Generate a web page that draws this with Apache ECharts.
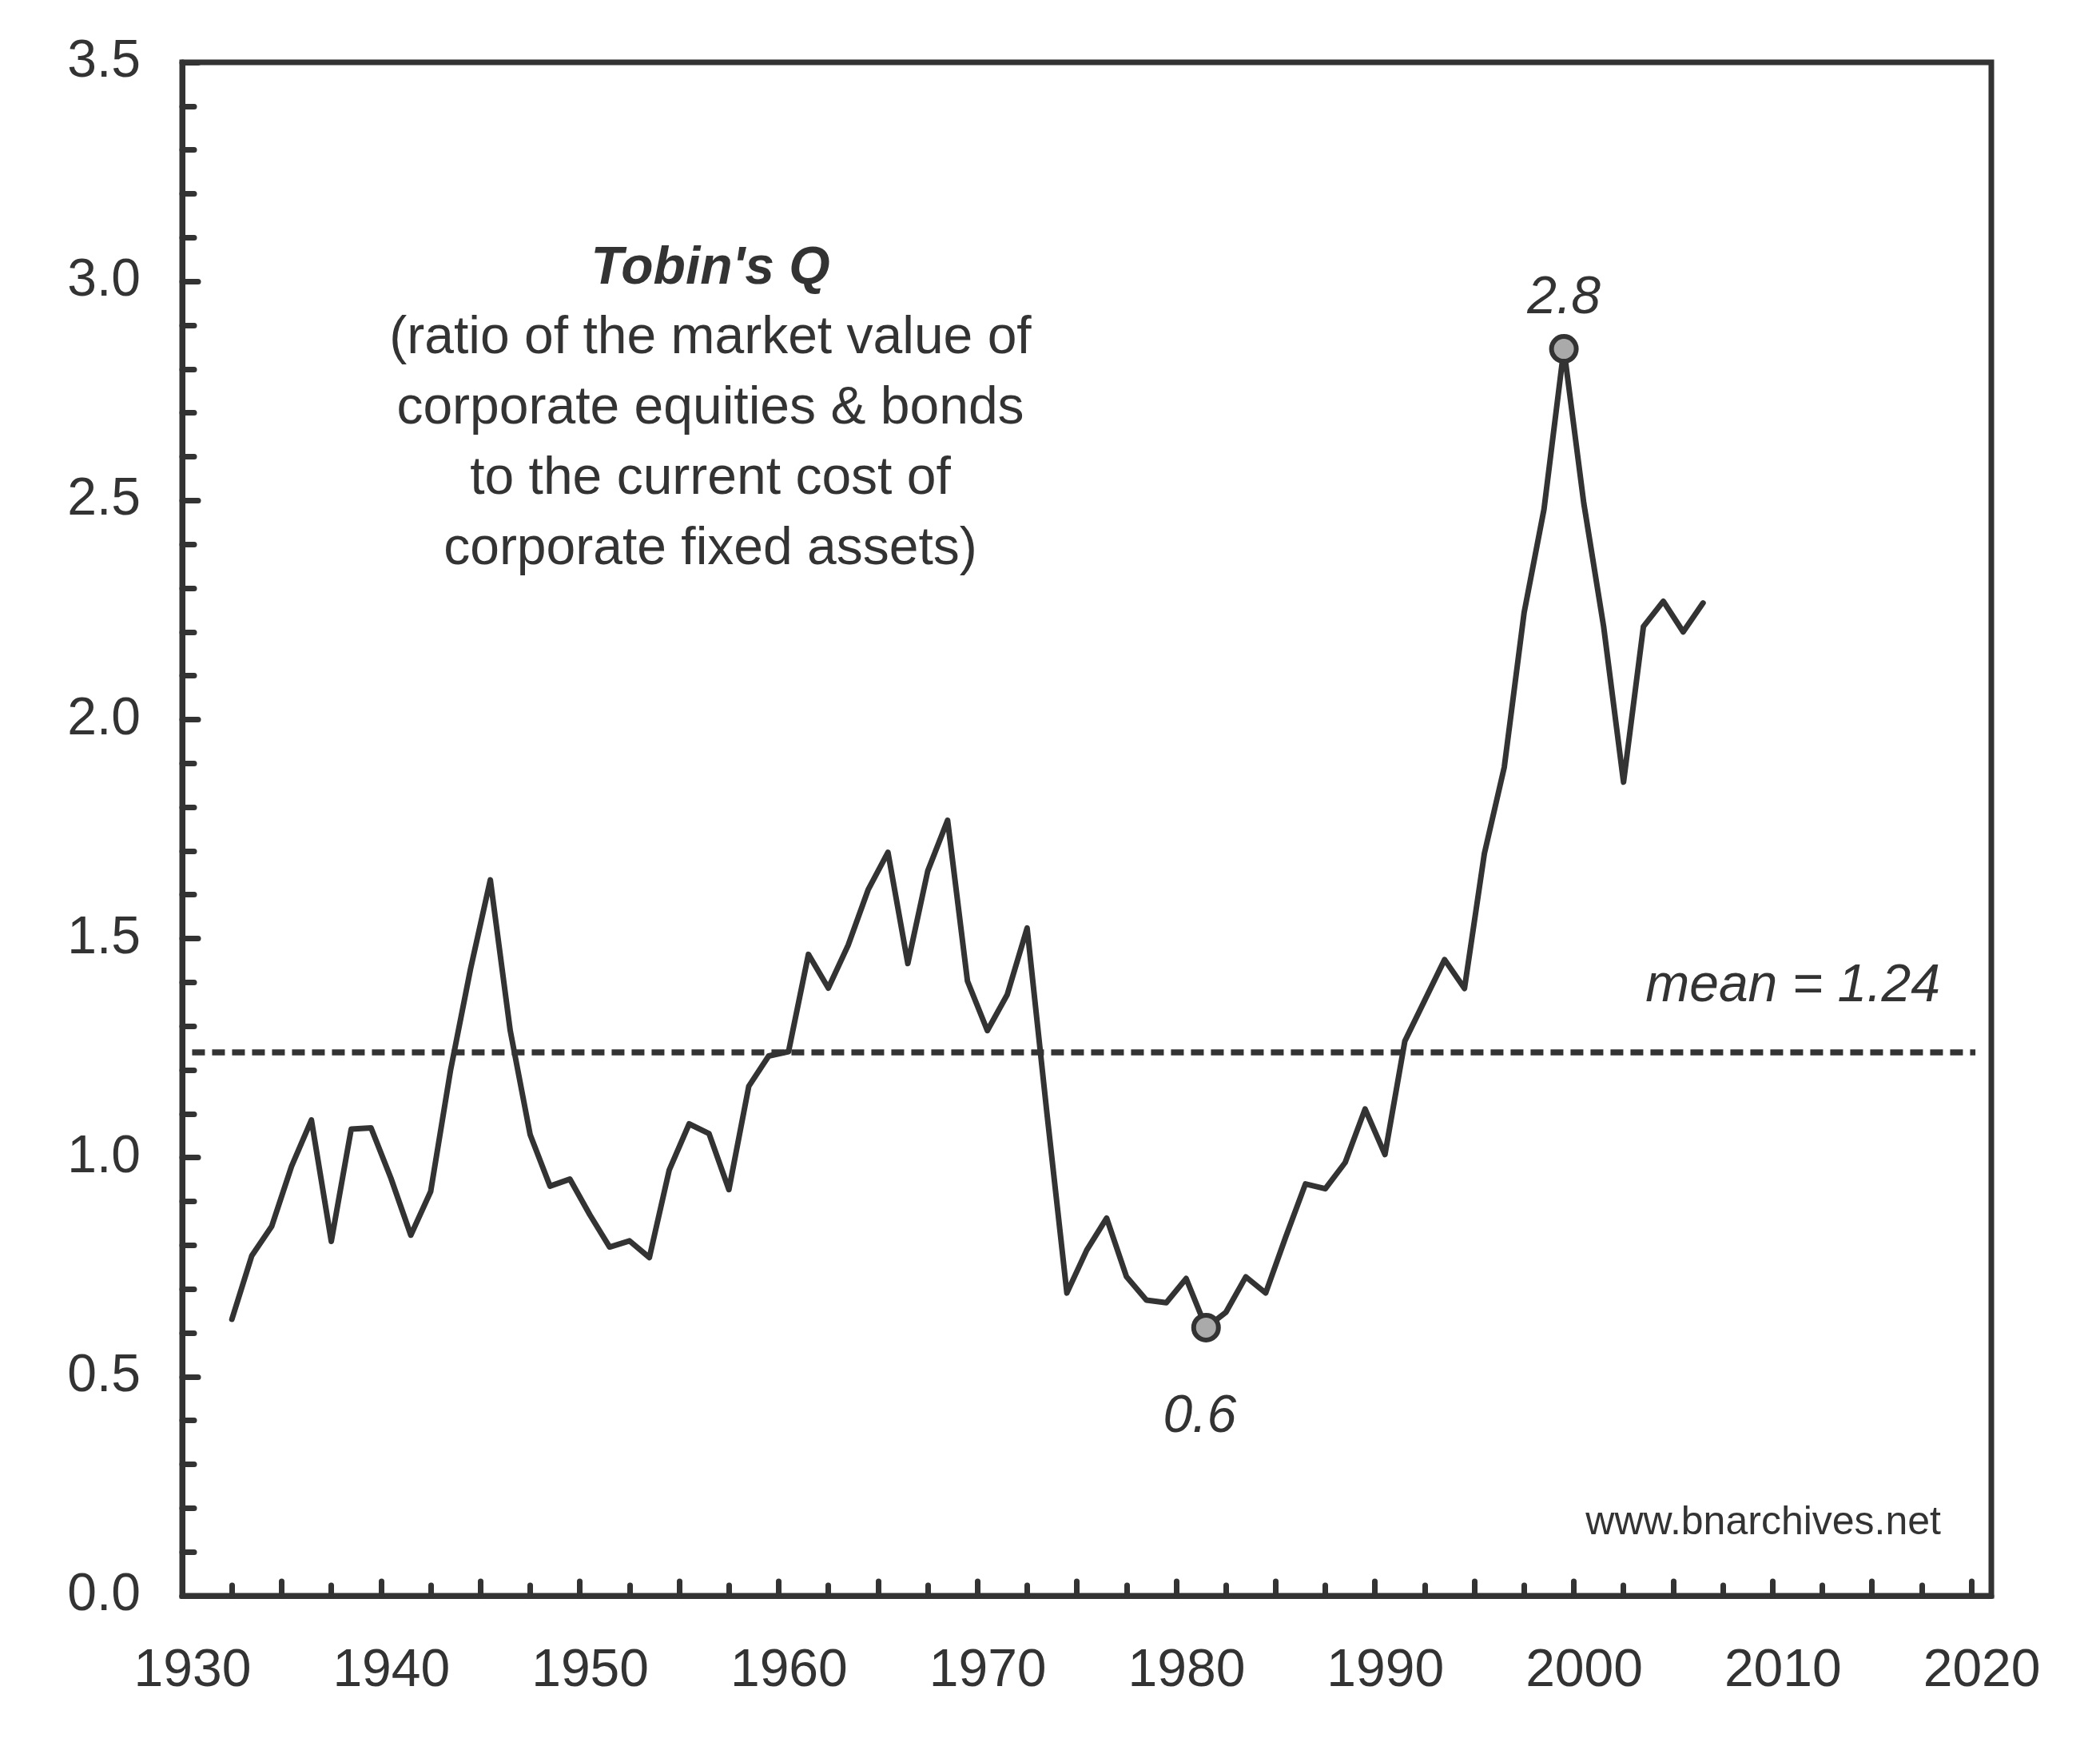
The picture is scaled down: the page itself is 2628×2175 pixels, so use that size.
<!DOCTYPE html>
<html>
<head>
<meta charset="utf-8">
<title>Tobin's Q</title>
<script src="https://cdn.jsdelivr.net/npm/echarts@6/dist/echarts.min.js"></script>
<style>
    html, body { margin: 0; padding: 0; background: #fff; }
    #chart { width: 2628px; height: 2175px; }
</style>
</head>
<body>
<div id="chart"></div>
<script>
    // annual values, drawn at mid-year
    const years = [
        1932, 1933, 1934, 1935, 1936, 1937, 1938, 1939, 1940, 1941,
        1942, 1943, 1944, 1945, 1946, 1947, 1948, 1949, 1950, 1951,
        1952, 1953, 1954, 1955, 1956, 1957, 1958, 1959, 1960, 1961,
        1962, 1963, 1964, 1965, 1966, 1967, 1968, 1969, 1970, 1971,
        1972, 1973, 1974, 1975, 1976, 1977, 1978, 1979, 1980, 1981,
        1982, 1983, 1984, 1985, 1986, 1987, 1988, 1989, 1990, 1991,
        1992, 1993, 1994, 1995, 1996, 1997, 1998, 1999, 2000, 2001,
        2002, 2003, 2004, 2005, 2006
    ];
    const tobinQ = [
        0.631, 0.776, 0.843, 0.980, 1.086, 0.809, 1.065, 1.068, 0.953, 0.823,
        0.923, 1.200, 1.430, 1.634, 1.290, 1.053, 0.935, 0.951, 0.870, 0.796,
        0.810, 0.772, 0.972, 1.077, 1.055, 0.927, 1.163, 1.232, 1.242, 1.464,
        1.387, 1.485, 1.611, 1.697, 1.443, 1.654, 1.770, 1.403, 1.290, 1.372,
        1.524, 1.100, 0.691, 0.789, 0.862, 0.728, 0.675, 0.669, 0.724, 0.612,
        0.647, 0.728, 0.691, 0.818, 0.940, 0.929, 0.989, 1.111, 1.007, 1.266,
        1.359, 1.452, 1.386, 1.694, 1.891, 2.244, 2.480, 2.846, 2.494, 2.212,
        1.857, 2.212, 2.270, 2.200, 2.266
    ];
    const meanQ = 1.24;
    const meanSpan = [1930.5, 2020.2];

    const yearLabels = [1930, 1940, 1950, 1960, 1970, 1980, 1990, 2000, 2010, 2020];
    const yearTicksMajor = [1935, 1940, 1945, 1950, 1955, 1960, 1965, 1970, 1975,
                            1980, 1985, 1990, 1995, 2000, 2005, 2010, 2015, 2020];
    const yearTicksMinor = [1932.5, 1937.5, 1942.5, 1947.5, 1952.5, 1957.5, 1962.5, 1967.5, 1972.5,
                            1977.5, 1982.5, 1987.5, 1992.5, 1997.5, 2002.5, 2007.5, 2012.5, 2017.5];

    const titleText = "Tobin's Q";
    const subtitleLines = [
        '(ratio of the market value of',
        'corporate equities & bonds',
        'to the current cost of',
        'corporate fixed assets)'
    ];

    const ink = '#333';
    const fontFamily = '"Liberation Sans", Arial, Helvetica, sans-serif';

    const points = years.map((y, i) => [y + 0.5, tobinQ[i]]);
    let hi = 0, lo = 0;
    tobinQ.forEach((v, i) => {
        if (v > tobinQ[hi]) hi = i;
        if (v < tobinQ[lo]) lo = i;
    });

    const tickStyle = { color: ink, width: 7, cap: 'round' };
    const xBase = {
        type: 'value',
        min: 1930,
        max: 2021,
        position: 'bottom',
        splitLine: { show: false }
    };

    const subtitleGraphics = subtitleLines.map((t, i) => ({
        type: 'text',
        x: 889,
        y: 424 + i * 88,
        style: {
            text: t,
            font: '66px ' + fontFamily,
            fill: ink,
            textAlign: 'center',
            textVerticalAlign: 'middle'
        }
    }));

    const option = {
        animation: false,
        backgroundColor: '#fff',
        grid: {
            left: 228, right: 136, top: 78, bottom: 178,
            show: true, borderColor: ink, borderWidth: 7
        },
        xAxis: [
            Object.assign({}, xBase, {
                axisLine: { onZero: false, lineStyle: { color: ink, width: 7 } },
                axisTick: { inside: true, length: 18, customValues: yearTicksMajor, lineStyle: tickStyle },
                axisLabel: {
                    customValues: yearLabels,
                    formatter: v => String(v),
                    margin: 62,
                    fontSize: 66,
                    color: ink,
                    fontFamily: fontFamily,
                    padding: [0, 0, 0, 26]
                }
            }),
            Object.assign({}, xBase, {
                axisLine: { show: false, onZero: false },
                axisTick: { inside: true, length: 13, customValues: yearTicksMinor, lineStyle: tickStyle },
                axisLabel: { show: false }
            })
        ],
        yAxis: {
            type: 'value',
            min: 0,
            max: 3.5,
            interval: 0.5,
            axisLine: { show: true, onZero: false, lineStyle: { color: ink, width: 7 } },
            axisTick: { inside: true, length: 20, lineStyle: tickStyle },
            minorTick: { show: true, splitNumber: 5, length: 15, lineStyle: tickStyle },
            splitLine: { show: false },
            minorSplitLine: { show: false },
            axisLabel: {
                formatter: v => v.toFixed(1),
                margin: 52,
                fontSize: 66,
                color: ink,
                fontFamily: fontFamily
            }
        },
        series: [
            {
                type: 'line',
                xAxisIndex: 0,
                data: points,
                symbol: 'none',
                lineStyle: { color: ink, width: 7, cap: 'round', join: 'round' },
                markLine: {
                    silent: true,
                    symbol: ['none', 'none'],
                    label: { show: false },
                    lineStyle: { color: ink, width: 7.5, type: [16, 9], cap: 'butt' },
                    data: [[{ coord: [meanSpan[0], meanQ] }, { coord: [meanSpan[1], meanQ] }]]
                },
                z: 3
            },
            {
                type: 'scatter',
                xAxisIndex: 0,
                symbol: 'circle',
                symbolSize: 31,
                itemStyle: { color: '#aaa', borderColor: ink, borderWidth: 6, opacity: 1 },
                label: {
                    show: true,
                    formatter: p => p.value[1].toFixed(1),
                    fontSize: 66,
                    fontStyle: 'italic',
                    color: ink,
                    fontFamily: fontFamily
                },
                data: [
                    { value: points[hi], label: { position: 'top', distance: 11 } },
                    { value: points[lo], label: { position: 'bottom', distance: 61, offset: [-8, 0] } }
                ],
                z: 5
            }
        ],
        graphic: [
            {
                type: 'text',
                x: 889,
                y: 337,
                style: {
                    text: titleText,
                    font: 'italic bold 66px ' + fontFamily,
                    fill: ink,
                    textAlign: 'center',
                    textVerticalAlign: 'middle'
                }
            },
            ...subtitleGraphics,
            {
                type: 'text',
                x: 2428,
                y: 1235,
                style: {
                    text: 'mean = ' + meanQ.toFixed(2),
                    font: 'italic 66px ' + fontFamily,
                    fill: ink,
                    textAlign: 'right',
                    textVerticalAlign: 'middle'
                }
            },
            {
                type: 'text',
                x: 2429,
                y: 1906,
                style: {
                    text: 'www.bnarchives.net',
                    font: '50px ' + fontFamily,
                    fill: ink,
                    textAlign: 'right',
                    textVerticalAlign: 'middle'
                }
            }
        ]
    };

    const chart = echarts.init(document.getElementById('chart'));
    chart.setOption(option);
</script>
</body>
</html>
